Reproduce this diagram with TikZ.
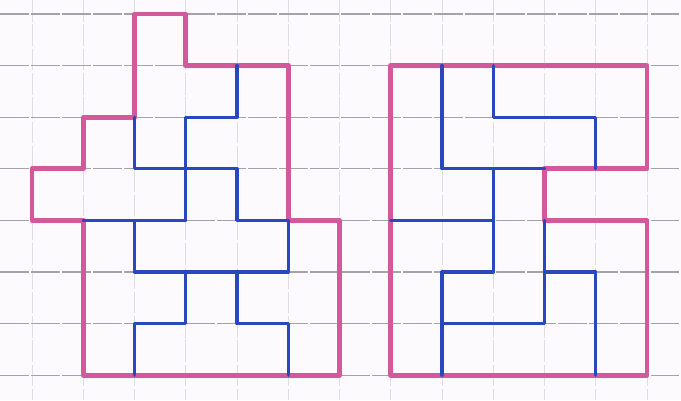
\documentclass[tikz,border=0pt]{standalone}
\usepackage{tikz}
\definecolor{paper}{HTML}{FCFAFC}
\definecolor{gridh}{HTML}{A5A3A8}
\definecolor{gridv}{HTML}{E0DEE2}
\definecolor{pinkline}{HTML}{D3589C}
\definecolor{blueline}{HTML}{2A48BE}
\tikzset{
  outline/.style={draw=pinkline, line width=2.7pt, line join=round, line cap=round},
  cut/.style={draw=blueline, line width=1.8pt, line join=round, line cap=round},
  hgrid/.style={draw=gridh, line width=0.6pt, dash pattern=on 16pt off 1.2pt},
  vgrid/.style={draw=gridv, line width=0.5pt, dash pattern=on 12pt off 1.5pt},
}
\begin{document}
\begin{tikzpicture}[x=1cm, y=-1.0068cm]
\fill[paper] (-0.624,-0.271) rectangle (12.663,7.481);
\useasboundingbox (-0.624,-0.271) rectangle (12.663,7.481);
% grid
\foreach \c in {0,...,12} \draw[vgrid] (\c,-0.271) -- (\c,7.481);
\foreach \r in {0,...,7} \draw[hgrid] (-0.624,\r) -- (12.663,\r);
% left figure outline
\draw[outline] (2,0) -- (3,0) -- (3,1) -- (5,1) -- (5,4) -- (6,4) -- (6,7)
  -- (1,7) -- (1,4) -- (0,4) -- (0,3) -- (1,3) -- (1,2) -- (2,2) -- cycle;
% left figure cuts
\draw[cut] (4,1) -- (4,2) -- (3,2) -- (3,4);
\draw[cut] (2,2) -- (2,3) -- (4,3) -- (4,4) -- (5,4);
\draw[cut] (1,4) -- (3,4);
\draw[cut] (2,4) -- (2,5) -- (5,5) -- (5,4);
\draw[cut] (3,5) -- (3,6) -- (2,6) -- (2,7);
\draw[cut] (4,5) -- (4,6) -- (5,6) -- (5,7);
% right figure outline
\draw[outline] (7,1) -- (12,1) -- (12,3) -- (10,3) -- (10,4) -- (12,4)
  -- (12,7) -- (7,7) -- cycle;
% right figure cuts
\draw[cut] (8,1) -- (8,3) -- (10,3);
\draw[cut] (9,1) -- (9,2) -- (11,2) -- (11,3);
\draw[cut] (9,3) -- (9,4) -- (7,4);
\draw[cut] (9,4) -- (9,5) -- (8,5) -- (8,7);
\draw[cut] (8,6) -- (10,6) -- (10,4);
\draw[cut] (10,5) -- (11,5) -- (11,7);
\end{tikzpicture}
\end{document}
